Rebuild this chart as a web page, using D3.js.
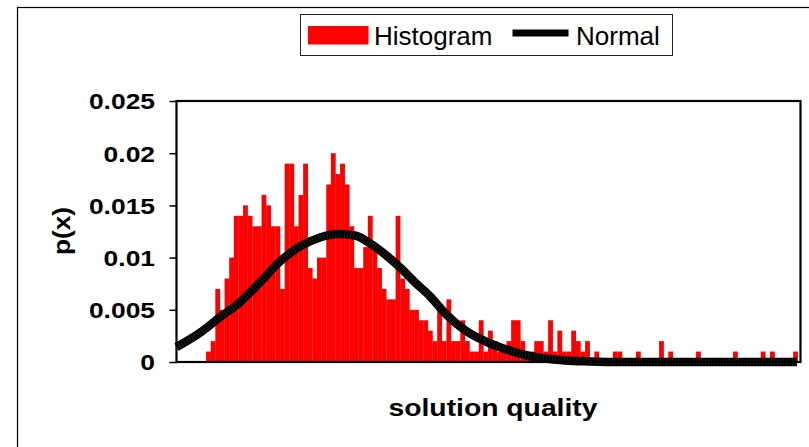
<!DOCTYPE html>
<html><head><meta charset="utf-8">
<script src="https://cdn.jsdelivr.net/npm/d3@7"></script>
<style>body{margin:0;background:#fff} text{font-family:"Liberation Sans",Arial,sans-serif}</style>
</head><body><svg id="c" width="809" height="447"></svg>
<script>
// histogram density per bin (bins 0..133)
const histogram = [
 0,0,0,0,0,0,0.001,0.002,0.007,0.005,
 0.008,0.010,0.014,0.014,0.015,0.014,0.013,0.013,0.016,0.015,
 0.013,0.013,0.007,0.019,0.019,0.013,0.016,0.019,0.009,0.008,
 0.010,0.010,0.017,0.020,0.018,0.019,0.017,0.013,0.009,0.009,
 0.011,0.014,0.011,0.009,0.007,0.006,0.006,0.014,0.008,0.007,
 0.005,0.005,0.004,0.004,0.003,0.002,0.005,0.002,0.006,0.002,
 0.002,0.004,0.002,0.001,0.001,0.004,0.001,0.003,0.002,0.001,
 0.001,0.002,0.004,0.004,0.002,0.001,0.001,0.002,0.002,0.001,
 0.004,0.001,0.003,0.001,0.001,0.003,0.002,0.001,0.002,0,
 0.001,0,0,0,0.001,0.001,0,0,0,0.001,
 0,0,0,0,0.002,0,0.001,0,0,0,
 0,0,0.001,0,0,0,0,0,0,0,
 0.001,0,0,0,0,0,0.001,0,0.001,0,
 0,0,0,0.001
];
// normal curve, read at points along the solution-quality axis
const normalX = [-0.4, 4.68, 9.01, 13.34, 17.67, 22.0, 26.32, 30.65, 34.54, 38.22, 41.47, 44.71, 47.96, 51.2, 54.45, 57.7, 62.02, 66.35, 70.68, 75.0, 79.33, 83.66, 89.07, 95.56, 110, 133.85];
const normalY = [0.00143, 0.00280, 0.00429, 0.00573, 0.00763, 0.00964, 0.01107, 0.01193, 0.01226, 0.01212, 0.01136, 0.01031, 0.00906, 0.00763, 0.00630, 0.00468, 0.00305, 0.00200, 0.00124, 0.00067, 0.00033, 0.00014, 0.00005, 0, 0, 0];
const yTicks = [0, 0.005, 0.01, 0.015, 0.02, 0.025];
const yTickLabels = ["0", "0.005", "0.01", "0.015", "0.02", "0.025"];
const legendLabels = ["Histogram", "Normal"];
const xTitle = "solution quality";
const yTitle = "p(x)";

const svg = d3.select("#c");
const M = {left: 176.5, right: 800.5, top: 101, bottom: 362};
const x = d3.scaleLinear().domain([-0.4, 134.6]).range([M.left, M.right]);
const y = d3.scaleLinear().domain([0, 0.025]).range([M.bottom, M.top]);

function stretch(sel, k) {
  sel.each(function() {
    const L = this.getComputedTextLength();
    this.setAttribute("textLength", L * k);
    this.setAttribute("lengthAdjust", "spacingAndGlyphs");
  });
}

// outer chart border
svg.append("rect").attr("x", 17.5).attr("y", 7.5).attr("width", 850).attr("height", 500)
  .attr("fill", "#fff").attr("stroke", "#000").attr("stroke-width", 1.2);

// bars
svg.append("g").selectAll("rect").data(histogram).join("rect")
  .attr("x", (d, i) => x(i))
  .attr("width", (d, i) => x(i + 1) - x(i) + 0.2)
  .attr("y", d => y(d))
  .attr("height", d => y(0) - y(d))
  .attr("fill", "#ff0000");

// normal curve
const pts = normalX.map((v, i) => [v, normalY[i]]);
const line = d3.line().x(d => x(d[0])).y(d => y(d[1])).curve(d3.curveMonotoneX);
svg.append("path").attr("d", line(pts)).attr("fill", "none")
  .attr("stroke", "#000").attr("stroke-width", 8.5);
svg.append("path").attr("d", line(pts)).attr("fill", "none")
  .attr("stroke", "#303030").attr("stroke-width", 6).attr("stroke-dasharray", "0.6 2.4");

// plot frame
svg.append("rect").attr("x", M.left).attr("y", M.top).attr("width", M.right - M.left).attr("height", M.bottom - M.top)
  .attr("fill", "none").attr("stroke", "#000").attr("stroke-width", 2.2);

// y axis
const ax = svg.append("g").attr("transform", `translate(${M.left},0)`)
  .call(d3.axisLeft(y).tickValues(yTicks).tickFormat((d, i) => yTickLabels[i]).tickSize(7).tickPadding(14.5));
ax.select(".domain").remove();
ax.selectAll(".tick line").attr("stroke", "#000").attr("stroke-width", 1.5);
ax.selectAll(".tick text").attr("font-family", "Liberation Sans, Arial, sans-serif")
  .attr("font-size", 22).attr("font-weight", "bold").attr("fill", "#000").attr("dy", "0.36em");
stretch(ax.selectAll(".tick text"), 1.2);

// axis titles
svg.append("text").attr("x", 493).attr("y", 415.5).attr("text-anchor", "middle")
  .attr("font-size", 23).attr("font-weight", "bold").attr("textLength", 209)
  .attr("lengthAdjust", "spacingAndGlyphs").text(xTitle);
svg.append("text").attr("transform", "translate(70,231) rotate(-90)").attr("text-anchor", "middle")
  .attr("font-size", 23).attr("font-weight", "bold").attr("textLength", 48)
  .attr("lengthAdjust", "spacingAndGlyphs").text(yTitle);

// legend
const lg = svg.append("g");
lg.append("rect").attr("x", 300.5).attr("y", 14.5).attr("width", 372).attr("height", 41)
  .attr("fill", "#fff").attr("stroke", "#222").attr("stroke-width", 1);
lg.append("rect").attr("x", 308).attr("y", 26).attr("width", 60.5).attr("height", 18.5).attr("fill", "#ff0000");
lg.append("text").attr("x", 374).attr("y", 45).attr("font-size", 26).text(legendLabels[0]);
lg.append("line").attr("x1", 512.5).attr("x2", 568.5).attr("y1", 33).attr("y2", 33)
  .attr("stroke", "#000").attr("stroke-width", 7);
lg.append("text").attr("x", 576).attr("y", 45).attr("font-size", 26).text(legendLabels[1]);
</script></body></html>
